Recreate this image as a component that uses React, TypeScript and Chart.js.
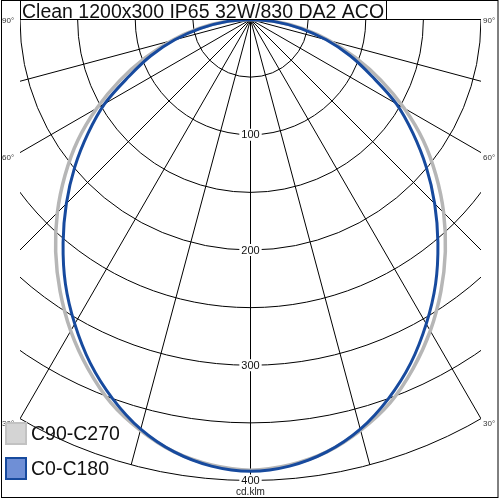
import React, { useEffect, useRef } from "react";
import { Chart, registerables } from "chart.js";

Chart.register(...registerables);

// ---- data ----
const TITLE = "Clean 1200x300 IP65 32W/830 DA2 ACO";
const UNIT_LABEL = "cd.klm";
const SERIES_NAMES = ["C0-C180", "C90-C270"];
// gamma angles (deg) from nadir, mirrored to both sides
const ANGLES = [0, 5, 10, 15, 20, 25, 30, 35, 40, 45, 50, 55, 60, 65, 70, 75, 80, 85, 90];
// luminous intensity cd/klm
const C0_C180 = [392, 389, 381, 368, 350, 329, 305, 280, 253, 226, 199, 172, 146, 116, 92, 68, 44, 21, 0];
const C90_C270 = [391, 388, 381, 369, 354, 334, 312, 288, 263, 237, 210, 183, 154, 125, 97, 71, 46, 23, 0];
// grid
const RING_VALUES = [50, 100, 150, 200, 250, 300, 350, 400];
const RING_LABELS = [100, 200, 300, 400];
const SPOKE_ANGLES = [-90, -75, -60, -45, -30, -15, 0, 15, 30, 45, 60, 75, 90];
const ANGLE_LABELS = [90, 60, 30];
const GRID_HALF_WIDTH = 200;

// ---- styling / layout ----
const W = 500;
const H = 500;
const K = 1.1525; // px per cd/klm
const CX = 250.5;
const CY = 19.5;
const FONT = "Arial, 'Liberation Sans', sans-serif";
const BLUE = "#174a9e";
const BLUE_FILL = "#6f8fd6";
const GRAY = "#b6b6b6";
const GRAY_FILL = "#d4d4d4";

function toPoints(values: number[]) {
  const pts: { x: number; y: number }[] = [];
  for (let i = ANGLES.length - 1; i >= 0; i--) {
    const t = (-ANGLES[i] * Math.PI) / 180;
    pts.push({ x: values[i] * Math.sin(t), y: -values[i] * Math.cos(t) });
  }
  for (let i = 1; i < ANGLES.length; i++) {
    const t = (ANGLES[i] * Math.PI) / 180;
    pts.push({ x: values[i] * Math.sin(t), y: -values[i] * Math.cos(t) });
  }
  return pts;
}

const polarGrid = {
  id: "polarGrid",
  beforeDatasetsDraw(chart: any) {
    const { ctx } = chart;
    const xs = chart.scales.x;
    const ys = chart.scales.y;
    const cx = xs.getPixelForValue(0);
    const cy = ys.getPixelForValue(0);
    const maxR = RING_VALUES[RING_VALUES.length - 1];
    const left = xs.getPixelForValue(-GRID_HALF_WIDTH);
    const right = xs.getPixelForValue(GRID_HALF_WIDTH);
    ctx.save();
    ctx.beginPath();
    ctx.rect(left, cy - 1, right - left, chart.height - cy + 1);
    ctx.clip();
    ctx.strokeStyle = "#000";
    ctx.lineWidth = 1;
    for (const v of RING_VALUES) {
      const r = xs.getPixelForValue(v) - cx;
      ctx.beginPath();
      ctx.arc(cx, cy, r, 0, Math.PI);
      ctx.stroke();
    }
    for (const a of SPOKE_ANGLES) {
      const t = (a * Math.PI) / 180;
      ctx.beginPath();
      ctx.moveTo(cx, cy);
      ctx.lineTo(xs.getPixelForValue(maxR * Math.sin(t)), ys.getPixelForValue(-maxR * Math.cos(t)));
      ctx.stroke();
    }
    ctx.restore();
  },
  afterDatasetsDraw(chart: any) {
    const { ctx } = chart;
    const xs = chart.scales.x;
    const ys = chart.scales.y;
    const cx = xs.getPixelForValue(0);
    const cy = ys.getPixelForValue(0);
    const left = xs.getPixelForValue(-GRID_HALF_WIDTH);
    const right = xs.getPixelForValue(GRID_HALF_WIDTH);
    ctx.save();
    // ring labels
    ctx.font = `11px ${FONT}`;
    ctx.textAlign = "center";
    ctx.textBaseline = "middle";
    for (const v of RING_LABELS) {
      const y = ys.getPixelForValue(-v);
      const s = String(v);
      const w = ctx.measureText(s).width + 4;
      ctx.fillStyle = "#fff";
      ctx.fillRect(cx - w / 2, y - 6, w, 12);
      ctx.fillStyle = "#111";
      ctx.fillText(s, cx, y + 0.5);
    }
    ctx.font = `10px ${FONT}`;
    ctx.fillStyle = "#222";
    ctx.fillText(UNIT_LABEL, cx, ys.getPixelForValue(-RING_VALUES[RING_VALUES.length - 1]) + 12);
    // angle labels
    ctx.font = `8px ${FONT}`;
    ctx.fillStyle = "#333";
    for (const a of ANGLE_LABELS) {
      const t = (a * Math.PI) / 180;
      const dxPx = right - cx;
      const yEnd = a === 90 ? cy : cy + dxPx / Math.tan(t);
      const y = yEnd + (a === 90 ? 1.5 : 5.5);
      ctx.textAlign = "left";
      ctx.fillText(`${a}°`, 2, y);
      ctx.fillText(`${a}°`, right + 2, y);
    }
    // title
    ctx.font = `19.5px ${FONT}`;
    ctx.textAlign = "left";
    ctx.textBaseline = "alphabetic";
    const tw = ctx.measureText(TITLE).width;
    ctx.fillStyle = "#fff";
    ctx.fillRect(left, 0, tw + 5, cy);
    ctx.strokeStyle = "#000";
    ctx.lineWidth = 1;
    ctx.strokeRect(Math.round(left) + 0.5, -1, Math.round(tw + 4), cy + 1);
    ctx.fillStyle = "#111";
    ctx.fillText(TITLE, left + 2, 18);
    // legend
    const items = [
      { name: SERIES_NAMES[1], fill: GRAY_FILL, stroke: "#c2c2c2", y: 422 },
      { name: SERIES_NAMES[0], fill: BLUE_FILL, stroke: BLUE, y: 457 },
    ];
    ctx.font = `19.5px ${FONT}`;
    ctx.textBaseline = "middle";
    for (const it of items) {
      ctx.fillStyle = it.fill;
      ctx.fillRect(5, it.y, 22, 23);
      ctx.strokeStyle = it.stroke;
      ctx.lineWidth = 2;
      ctx.strokeRect(6, it.y + 1, 20, 21);
      ctx.fillStyle = "#111";
      ctx.fillText(it.name, 31, it.y + 12.5);
    }
    // frame
    ctx.strokeStyle = "#000";
    ctx.lineWidth = 1;
    ctx.strokeRect(1.5, 0.5, 496.5, 497);
    ctx.restore();
  },
};

export default function App() {
  const ref = useRef<HTMLCanvasElement | null>(null);
  useEffect(() => {
    if (!ref.current) return;
    const chart = new Chart(ref.current, {
      type: "scatter",
      data: {
        datasets: [
          {
            label: SERIES_NAMES[0],
            data: toPoints(C0_C180),
            showLine: true,
            borderColor: BLUE,
            backgroundColor: BLUE_FILL,
            borderWidth: 3,
            pointRadius: 0,
            tension: 0.35,
          },
          {
            label: SERIES_NAMES[1],
            data: toPoints(C90_C270),
            showLine: true,
            borderColor: GRAY,
            backgroundColor: GRAY_FILL,
            borderWidth: 3.5,
            pointRadius: 0,
            tension: 0.35,
          },
        ],
      },
      options: {
        animation: false,
        responsive: false,
        devicePixelRatio: 1,
        layout: { padding: 0 },
        events: [],
        scales: {
          x: { type: "linear", min: -CX / K, max: (W - CX) / K, display: false },
          y: { type: "linear", min: -(H - CY) / K, max: CY / K, display: false },
        },
        plugins: { legend: { display: false }, tooltip: { enabled: false }, title: { display: false } },
      },
      plugins: [polarGrid],
    });
    return () => chart.destroy();
  }, []);
  return (
    <div style={{ position: "fixed", left: 0, top: 0, width: W, height: H, background: "#fff" }}>
      <canvas ref={ref} width={W} height={H} style={{ display: "block", width: W, height: H }} />
    </div>
  );
}
